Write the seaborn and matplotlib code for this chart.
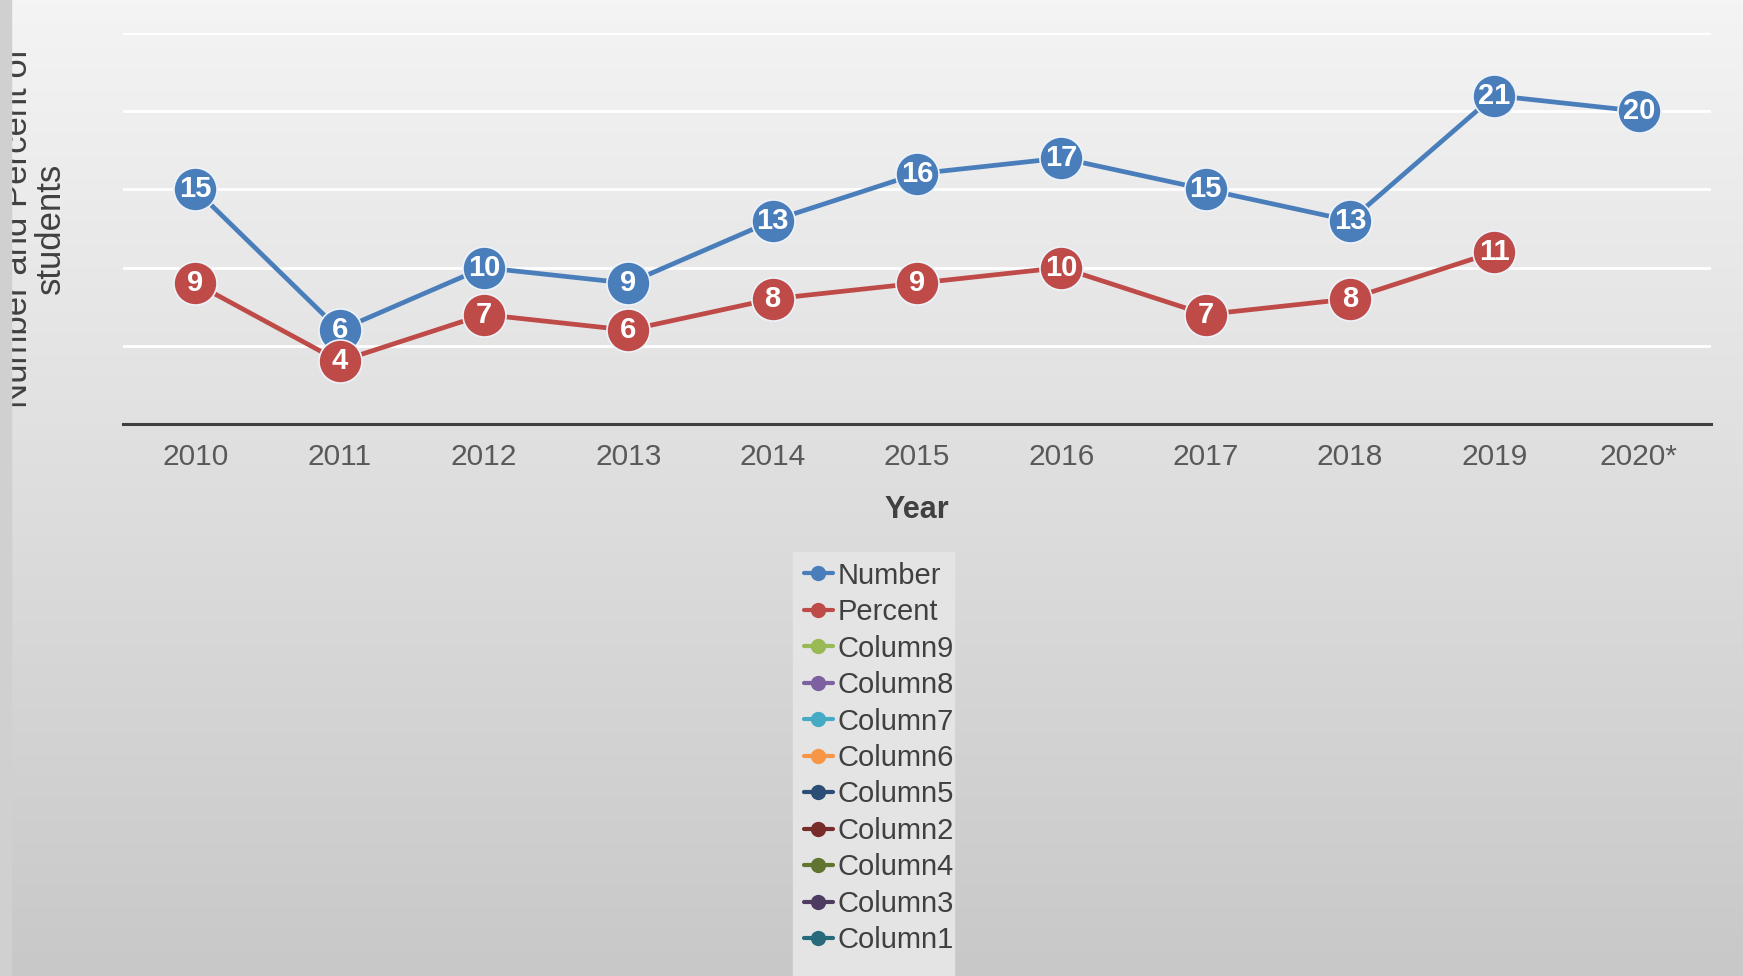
import numpy as np
import pandas as pd
import matplotlib.pyplot as plt
import seaborn as sns
from matplotlib.lines import Line2D
from matplotlib.patches import Rectangle

years = ["2010", "2011", "2012", "2013", "2014", "2015", "2016", "2017", "2018", "2019", "2020*"]
number = [15, 6, 10, 9, 13, 16, 17, 15, 13, 21, 20]
percent = [9, 4, 7, 6, 8, 9, 10, 7, 8, 11, np.nan]

series_names = ["Number", "Percent", "Column9", "Column8", "Column7", "Column6",
                "Column5", "Column2", "Column4", "Column3", "Column1"]
series_colors = ["#4a7ebb", "#be4b48", "#98b954", "#7d60a0", "#46aac5", "#f79646",
                 "#2c4d75", "#772c2a", "#5f7530", "#4d3b62", "#276a7c"]

sns.set_style("white")
plt.rcParams["font.family"] = ["Liberation Sans", "DejaVu Sans"]

fig = plt.figure(figsize=(17.43, 9.76), dpi=100)

# background gradient
bg = fig.add_axes([0, 0, 1, 1], zorder=-2)
grad = np.linspace(0, 1, 256).reshape(-1, 1)
bg.imshow(grad, aspect="auto", cmap=sns.blend_palette(["#f4f4f4", "#c8c8c8"], as_cmap=True),
          extent=[0, 1, 0, 1], origin="upper")
bg.add_patch(Rectangle((793 / 1743, 0), (954 - 793) / 1743, 1 - 552 / 976, color="#e4e4e4", zorder=3))
bg.set_xlim(0, 1)
bg.set_ylim(0, 1)
bg.axis("off")

ax = fig.add_axes([123 / 1743, 1 - 424 / 976, (1711 - 123) / 1743, (424 - 33) / 976])
ax.set_facecolor("none")

df = pd.DataFrame({"Year": years, "Number": number, "Percent": percent})
x = np.arange(len(years))

for name, col in [("Number", series_colors[0]), ("Percent", series_colors[1])]:
    sns.lineplot(x=x, y=df[name], ax=ax, color=col, linewidth=3.4, marker="o",
                 markersize=31, markeredgecolor="#eef3fa", markeredgewidth=1.2,
                 zorder=3 if name == "Number" else 4)
    for xi, v in zip(x, df[name]):
        if not np.isnan(v):
            ax.text(xi, v, f"{int(v)}", ha="center", va="center", color="white",
                    fontsize=21, fontweight="bold", zorder=6)

ax.set_xlim(-0.5, len(years) - 0.5)
ax.set_ylim(0, 25)
ax.set_yticks([5, 10, 15, 20, 25])
ax.set_yticklabels([])
ax.tick_params(axis="y", length=0)
ax.grid(axis="y", color="white", linewidth=2)
ax.set_axisbelow(True)
ax.set_xticks(x)
ax.set_xticklabels(years, fontsize=21.5, color="#595959")
ax.tick_params(axis="x", length=0, pad=14)
for s in ["left", "top", "right"]:
    ax.spines[s].set_visible(False)
ax.spines["bottom"].set_color("#404040")
ax.spines["bottom"].set_linewidth(2.2)

ax.set_xlabel("Year", fontsize=22, fontweight="bold", color="#404040", labelpad=17)
ax.set_ylabel("Number and Percent of\nstudents", fontsize=25, color="#404040",
              multialignment="center", linespacing=1.0)
ax.yaxis.set_label_coords(-0.035, 0.5)

# left border strip of the screenshot (clips the label)
fig.patches.append(Rectangle((0, 0), 11 / 1743, 1, transform=fig.transFigure,
                             color="#d0d0d0", zorder=10))

handles = [Line2D([0], [0], color=c, linewidth=3, marker="o", markersize=10) for c in series_colors]
fig.legend(handles, series_names, loc="upper left", bbox_to_anchor=(792 / 1743, 1 - 550 / 976),
           frameon=False, fontsize=21, labelcolor="#404040", handlelength=1.0,
           handletextpad=0.15, labelspacing=0.29, borderaxespad=0)

fig.savefig("out.png", dpi=100)
